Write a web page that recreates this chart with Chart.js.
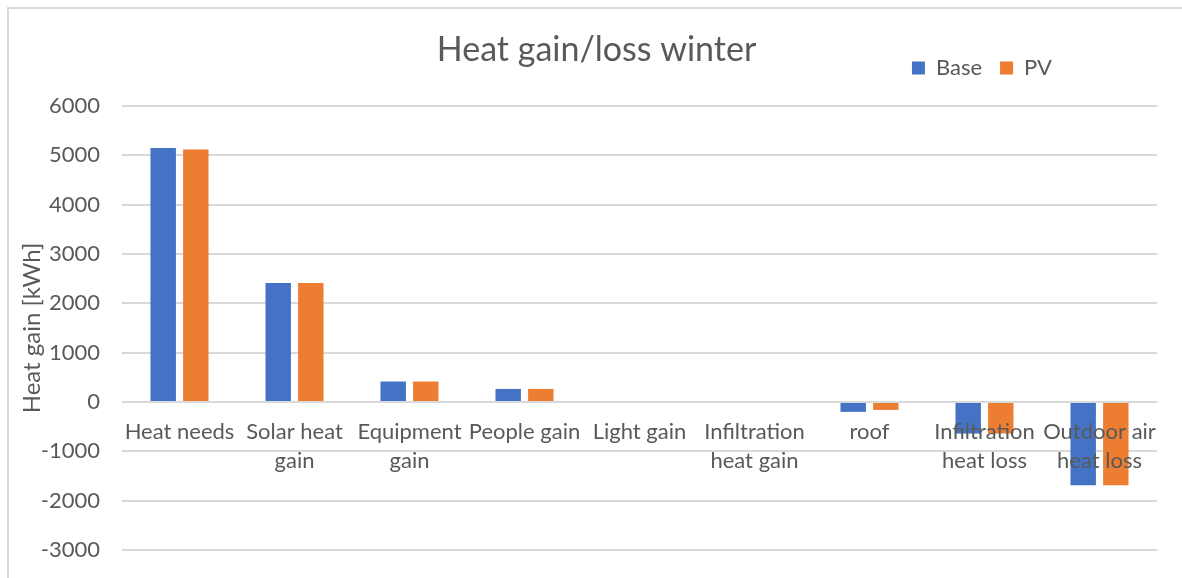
<!DOCTYPE html>
<html><head><meta charset="utf-8">
<script src="https://cdn.jsdelivr.net/npm/chart.js@4.4.0/dist/chart.umd.min.js"></script>
<style>
html,body{margin:0;padding:0;background:#fff;overflow:hidden}
#wrap{position:relative;width:1182px;height:578px}
#frame{position:absolute;left:7px;top:7px;width:1300px;height:700px;border-top:2px solid #D9D9D9;border-left:2px solid #D9D9D9}
canvas{position:absolute;left:0;top:0}
</style></head><body>
<div id="wrap"><div id="frame"></div><canvas id="c" width="1182" height="578"></canvas></div>
<script>
const categories = [
  ['Heat needs'],
  ['Solar heat', 'gain'],
  ['Equipment', 'gain'],
  ['People gain'],
  ['Light gain'],
  ['Infiltration', 'heat gain'],
  ['roof'],
  ['Infiltration', 'heat loss'],
  ['Outdoor air', 'heat loss']
];
const baseValues = [5150, 2410, 415, 265, 20, 0, -200, -640, -1690];
const pvValues   = [5120, 2410, 415, 265, 20, 0, -160, -640, -1690];
const seriesNames = ['Base', 'PV'];
const yMin = -3000, yMax = 6000, yStep = 1000;

const FONT = 'Lato';
const TEXT = '#595959';
const GRID = '#D9D9D9';

const blockMover = {
  id: 'blockMover',
  afterLayout(chart) {
    const lg = chart.legend;
    const pad = lg.options.labels.padding;
    const fs = lg.options.labels.font.size;
    const dx = 1052 - (lg.right - pad);
    const dy = 68 - (lg.top + pad + fs / 2);
    lg.left += dx; lg.right += dx;
    lg.top += dy; lg.bottom += dy;
    const tb = chart.titleBlock;
    if (tb) { tb.left += 11; tb.right += 11; }
  }
};

new Chart(document.getElementById('c'), {
  type: 'bar',
  data: {
    labels: categories,
    datasets: [
      { label: seriesNames[0], data: baseValues, backgroundColor: '#4472C4', categoryPercentage: 0.567, barPercentage: 0.78 },
      { label: seriesNames[1], data: pvValues, backgroundColor: '#ED7D31', categoryPercentage: 0.567, barPercentage: 0.78 }
    ]
  },
  options: {
    responsive: false,
    animation: false,
    layout: { padding: { left: 14, right: 25, top: 0, bottom: 28 } },
    plugins: {
      title: {
        display: true,
        text: 'Heat gain/loss winter',
        color: TEXT,
        font: { family: FONT, size: 34, weight: 'normal' },
        padding: { top: 30, bottom: -14.8 }
      },
      legend: {
        display: true,
        position: 'top',
        align: 'end',
        labels: {
          color: TEXT,
          font: { family: FONT, size: 22 },
          boxWidth: 13,
          boxHeight: 13,
          padding: 18
        }
      },
      tooltip: { enabled: false }
    },
    scales: {
      x: {
        position: { y: 0 },
        grid: { display: false, drawTicks: false },
        border: { display: false },
        ticks: {
          z: 1,
          color: TEXT,
          font: { family: FONT, size: 22, lineHeight: '29px' },
          padding: 15,
          maxRotation: 0,
          autoSkip: false
        }
      },
      y: {
        min: yMin,
        max: yMax,
        afterFit(scale) { scale.width = 108; },
        grid: { color: GRID, lineWidth: 2, drawTicks: true, tickLength: 19, tickColor: 'rgba(0,0,0,0)' },
        border: { display: false },
        ticks: {
          stepSize: yStep,
          color: TEXT,
          font: { family: FONT, size: 22 },
          padding: 3,
          callback: (v) => String(v)
        },
        title: {
          display: true,
          text: 'Heat gain [kWh]',
          color: TEXT,
          font: { family: FONT, size: 24 },
          padding: { top: 4, bottom: 4 }
        }
      }
    }
  },
  plugins: [blockMover]
});
</script>
</body></html>
